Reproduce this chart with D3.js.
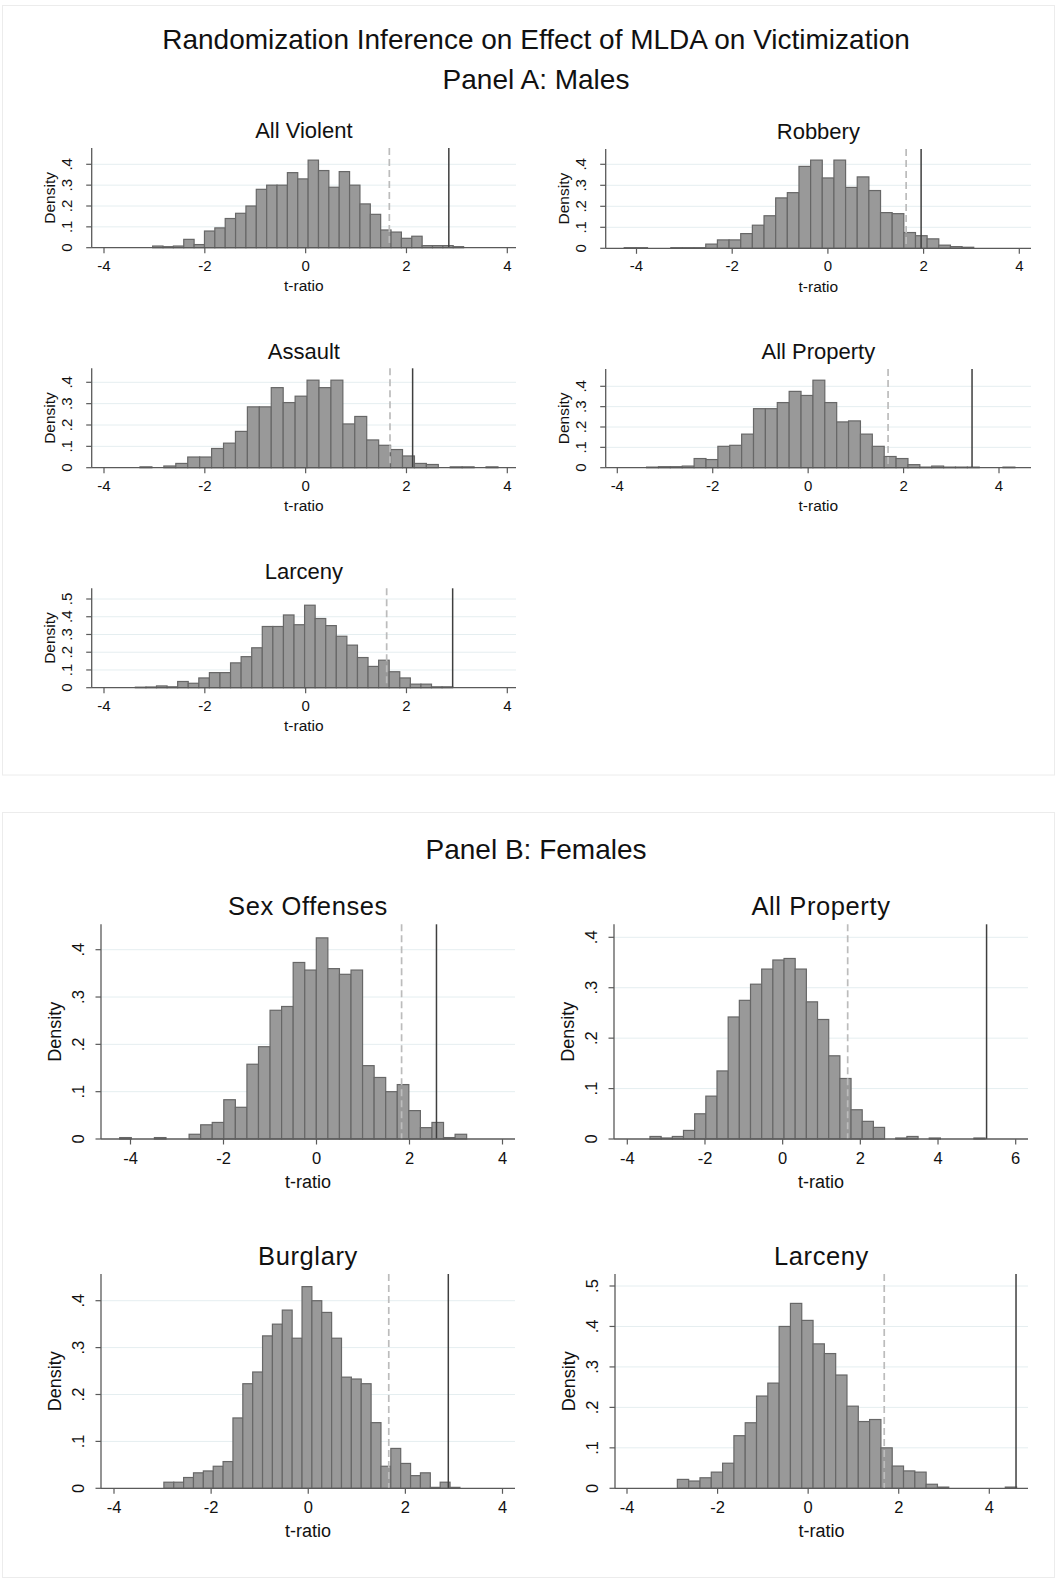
<!DOCTYPE html>
<html>
<head>
<meta charset="utf-8">
<script src="https://cdn.jsdelivr.net/npm/d3@7"></script>
<style>
  body { margin: 0; background: #fff; }
  svg { display: block; font-family: "Liberation Sans", Arial, Helvetica, sans-serif; }
</style>
</head>
<body>
<svg id="chart" width="1058" height="1581"></svg>
<script>
// Randomization inference: placebo t-ratio histograms (density per bin)

const panelNames = ["All Violent", "Robbery", "Assault", "All Property", "Larceny",
                    "Sex Offenses", "All Property", "Burglary", "Larceny"];

// left edge of the first bin and bin width, in t-ratio units
const binStart = [-3.035, -4.257, -3.286, -3.386, -3.378, -4.232, -3.416, -2.973, -2.888];
const binWidth = [0.2056, 0.2435, 0.2367, 0.249, 0.2098, 0.2487, 0.2876, 0.2032, 0.2497];

// Panel A: males
const maleAllViolent = [0.008, 0.005, 0.008, 0.04, 0.015, 0.08, 0.095, 0.14, 0.165, 0.2,
  0.28, 0.3, 0.3, 0.36, 0.33, 0.42, 0.37, 0.29, 0.365, 0.3,
  0.21, 0.16, 0.085, 0.075, 0.045, 0.055, 0.01, 0.01, 0.01, 0.005];
const maleRobbery = [0.003, 0.003, 0, 0, 0.003, 0.003, 0.003, 0.02, 0.04, 0.04,
  0.07, 0.11, 0.155, 0.24, 0.265, 0.39, 0.42, 0.335, 0.42, 0.29,
  0.34, 0.275, 0.17, 0.165, 0.075, 0.06, 0.045, 0.015, 0.008, 0.005];
const maleAssault = [0.004, 0, 0.008, 0.02, 0.05, 0.05, 0.09, 0.115, 0.17, 0.285,
  0.285, 0.375, 0.305, 0.335, 0.41, 0.375, 0.41, 0.205, 0.24, 0.13,
  0.105, 0.085, 0.055, 0.02, 0.015, 0, 0.004, 0.004, 0, 0.004];
const maleAllProperty = [0.003, 0.005, 0.005, 0.008, 0.045, 0.04, 0.105, 0.11, 0.165, 0.29,
  0.29, 0.32, 0.375, 0.355, 0.43, 0.32, 0.225, 0.23, 0.165, 0.105,
  0.055, 0.045, 0.015, 0.003, 0.008, 0.003, 0.003, 0.003, 0, 0, 0.003];
const maleLarceny = [0.003, 0.004, 0.01, 0.005, 0.035, 0.025, 0.055, 0.085, 0.085, 0.14,
  0.175, 0.225, 0.345, 0.345, 0.41, 0.355, 0.465, 0.39, 0.35, 0.29,
  0.24, 0.17, 0.12, 0.155, 0.09, 0.055, 0.02, 0.02, 0.005, 0.005];

// Panel B: females
const femaleSexOffenses = [0.003, 0, 0, 0.003, 0, 0, 0.01, 0.03, 0.035, 0.083,
  0.067, 0.158, 0.195, 0.272, 0.28, 0.373, 0.357, 0.425, 0.36, 0.348,
  0.357, 0.155, 0.13, 0.1, 0.115, 0.06, 0.024, 0.035, 0.003, 0.01];
const femaleAllProperty = [0.005, 0.002, 0.005, 0.017, 0.05, 0.085, 0.135, 0.242, 0.275, 0.307,
  0.337, 0.355, 0.358, 0.337, 0.272, 0.237, 0.165, 0.12, 0.058, 0.035,
  0.023, 0, 0.002, 0.005, 0, 0.002, 0, 0, 0, 0.002];
const femaleBurglary = [0.013, 0.013, 0.023, 0.033, 0.037, 0.047, 0.057, 0.15, 0.223, 0.248,
  0.325, 0.35, 0.38, 0.32, 0.43, 0.4, 0.375, 0.32, 0.237, 0.233,
  0.223, 0.14, 0.047, 0.085, 0.053, 0.027, 0.033, 0.002, 0.013, 0.002];
const femaleLarceny = [0.022, 0.018, 0.026, 0.04, 0.062, 0.13, 0.162, 0.228, 0.26, 0.4,
  0.457, 0.415, 0.357, 0.333, 0.28, 0.203, 0.165, 0.17, 0.1, 0.055,
  0.043, 0.04, 0.01, 0.003, 0, 0, 0, 0, 0, 0.003];

// 95% critical value (dashed) and the observed t-ratio (solid)
const criticalT = [1.66, 1.635, 1.673, 1.675, 1.607, 1.83, 1.674, 1.658, 1.68];
const observedT = [2.84, 1.948, 2.122, 3.435, 2.916, 2.58, 5.25, 2.884, 4.59];

// axis ticks
const xTicksStd = [-4, -2, 0, 2, 4];
const xTicksWide = [-4, -2, 0, 2, 4, 6];
const yTicksTo4 = [0, 0.1, 0.2, 0.3, 0.4];
const yTicksTo5 = [0, 0.1, 0.2, 0.3, 0.4, 0.5];

const densities = [maleAllViolent, maleRobbery, maleAssault, maleAllProperty, maleLarceny,
                   femaleSexOffenses, femaleAllProperty, femaleBurglary, femaleLarceny];
const xTickSets = [xTicksStd, xTicksStd, xTicksStd, xTicksStd, xTicksStd,
                   xTicksStd, xTicksWide, xTicksStd, xTicksStd];
const yTickSets = [yTicksTo4, yTicksTo4, yTicksTo4, yTicksTo4, yTicksTo5,
                   yTicksTo4, yTicksTo4, yTicksTo4, yTicksTo5];

// plot frames (pixels): plot rectangle plus pixel positions of the outer ticks
const frames = [
  { l: 91.7,  r: 516,  t: 148,   b: 247.7,  x0: 104,   x1: 507.3,  yTop: 164.3, s: "A" },
  { l: 605.7, r: 1031, t: 149,   b: 248.3,  x0: 636.5, x1: 1019.3, yTop: 164.3, s: "A" },
  { l: 91.7,  r: 516,  t: 368.3, b: 467.7,  x0: 104,   x1: 507.3,  yTop: 382.3, s: "A" },
  { l: 605.7, r: 1031, t: 369,   b: 467.7,  x0: 617.3, x1: 999,    yTop: 386.3, s: "A" },
  { l: 91.7,  r: 516,  t: 588.3, b: 687.7,  x0: 104,   x1: 507.3,  yTop: 599,   s: "A" },
  { l: 101,   r: 515,  t: 924.3, b: 1139,   x0: 130.5, x1: 502.5,  yTop: 949.7, s: "B" },
  { l: 614,   r: 1028, t: 924.3, b: 1139,   x0: 627.3, x1: 1015.7, yTop: 937.3, s: "B" },
  { l: 101,   r: 515,  t: 1274,  b: 1488.3, x0: 114,   x1: 502.5,  yTop: 1300.7, s: "B" },
  { l: 615,   r: 1028, t: 1274,  b: 1488.3, x0: 627,   x1: 989.3,  yTop: 1286,  s: "B" }
];

// text sizes/offsets for the two panel groups
const styleSets = {
  A: { title: 22, tick: 15, axis: 15.5, xTickDy: 23, xTitleDy: 43.5, yTickDx: 20, yTitleDx: 37, titleDy: 9.7, spacing: 0 },
  B: { title: 25.5, tick: 16.5, axis: 18, xTickDy: 25, xTitleDy: 49, yTickDx: 17, yTitleDx: 40, titleDy: 9.5, spacing: 0.6 }
};

const svg = d3.select("#chart");
const ink = "#111";
const axisColor = "#5a5a5a";
const fmtY = v => v === 0 ? "0" : d3.format(".1f")(v).replace(/^0/, "");

// panel group boxes
svg.append("rect").attr("x", 2.5).attr("y", 5.5).attr("width", 1052).attr("height", 769.5)
  .attr("fill", "none").attr("stroke", "#ececec");
svg.append("rect").attr("x", 2.5).attr("y", 812.5).attr("width", 1052).attr("height", 765)
  .attr("fill", "none").attr("stroke", "#ececec");

// headings
svg.append("text").attr("x", 536).attr("y", 49.3).attr("text-anchor", "middle")
  .attr("font-size", 28).attr("fill", ink)
  .text("Randomization Inference on Effect of MLDA on Victimization");
svg.append("text").attr("x", 536).attr("y", 88.7).attr("text-anchor", "middle")
  .attr("font-size", 28).attr("fill", ink).text("Panel A: Males");
svg.append("text").attr("x", 536).attr("y", 859).attr("text-anchor", "middle")
  .attr("font-size", 28).attr("fill", ink).text("Panel B: Females");

frames.forEach((f, i) => {
  const st = styleSets[f.s];
  const xt = xTickSets[i];
  const yt = yTickSets[i];
  const x = d3.scaleLinear().domain([xt[0], xt[xt.length - 1]]).range([f.x0, f.x1]);
  const y = d3.scaleLinear().domain([0, yt[yt.length - 1]]).range([f.b, f.yTop]);
  const g = svg.append("g");
  const cx = (f.l + f.r) / 2;

  // grid lines
  g.selectAll("line.grid").data(yt.filter(v => v > 0)).join("line")
    .attr("x1", f.l).attr("x2", f.r)
    .attr("y1", d => y(d)).attr("y2", d => y(d))
    .attr("stroke", "#e5eef0").attr("stroke-width", 1);

  // histogram bars
  const bins = densities[i].map((d, k) => ({
    a: binStart[i] + k * binWidth[i],
    z: binStart[i] + (k + 1) * binWidth[i],
    d: d
  })).filter(o => o.d > 0);
  g.selectAll("rect.bar").data(bins).join("rect")
    .attr("x", o => x(o.a))
    .attr("width", o => x(o.z) - x(o.a))
    .attr("y", o => y(o.d))
    .attr("height", o => y(0) - y(o.d))
    .attr("fill", "#999999")
    .attr("stroke", "#676767")
    .attr("stroke-width", 1.2);

  // reference lines
  g.append("line")
    .attr("x1", x(criticalT[i])).attr("x2", x(criticalT[i]))
    .attr("y1", f.t).attr("y2", f.b)
    .attr("stroke", "#bcbcbc").attr("stroke-width", 1.7)
    .attr("stroke-dasharray", "7,4");
  g.append("line")
    .attr("x1", x(observedT[i])).attr("x2", x(observedT[i]))
    .attr("y1", f.t).attr("y2", f.b)
    .attr("stroke", "#3f3f3f").attr("stroke-width", 1.5);

  // axes lines
  g.append("line").attr("x1", f.l).attr("x2", f.r).attr("y1", f.b).attr("y2", f.b)
    .attr("stroke", axisColor).attr("stroke-width", 1.3);
  g.append("line").attr("x1", f.l).attr("x2", f.l).attr("y1", f.t).attr("y2", f.b)
    .attr("stroke", axisColor).attr("stroke-width", 1.3);

  // x ticks
  g.selectAll("line.xt").data(xt).join("line")
    .attr("x1", d => x(d)).attr("x2", d => x(d))
    .attr("y1", f.b).attr("y2", f.b + 5.5)
    .attr("stroke", axisColor).attr("stroke-width", 1.2);
  g.selectAll("text.xt").data(xt).join("text")
    .attr("x", d => x(d)).attr("y", f.b + st.xTickDy)
    .attr("text-anchor", "middle").attr("font-size", st.tick).attr("fill", ink)
    .text(d => String(d));

  // y ticks (labels rotated, reading upward)
  g.selectAll("line.yt").data(yt).join("line")
    .attr("x1", f.l - 5.5).attr("x2", f.l)
    .attr("y1", d => y(d)).attr("y2", d => y(d))
    .attr("stroke", axisColor).attr("stroke-width", 1.2);
  g.selectAll("text.yt").data(yt).join("text")
    .attr("transform", d => `translate(${f.l - st.yTickDx},${y(d)}) rotate(-90)`)
    .attr("text-anchor", "middle").attr("font-size", st.tick).attr("fill", ink)
    .text(fmtY);

  // axis titles
  g.append("text").attr("x", cx).attr("y", f.b + st.xTitleDy)
    .attr("text-anchor", "middle").attr("font-size", st.axis).attr("fill", ink)
    .text("t-ratio");
  g.append("text")
    .attr("transform", `translate(${f.l - st.yTitleDx},${(f.t + f.b) / 2}) rotate(-90)`)
    .attr("text-anchor", "middle").attr("font-size", st.axis).attr("fill", ink)
    .text("Density");

  // panel title
  g.append("text").attr("x", cx).attr("y", f.t - st.titleDy)
    .attr("text-anchor", "middle").attr("font-size", st.title).attr("fill", ink)
    .attr("letter-spacing", st.spacing)
    .text(panelNames[i]);
});
</script>
</body>
</html>
